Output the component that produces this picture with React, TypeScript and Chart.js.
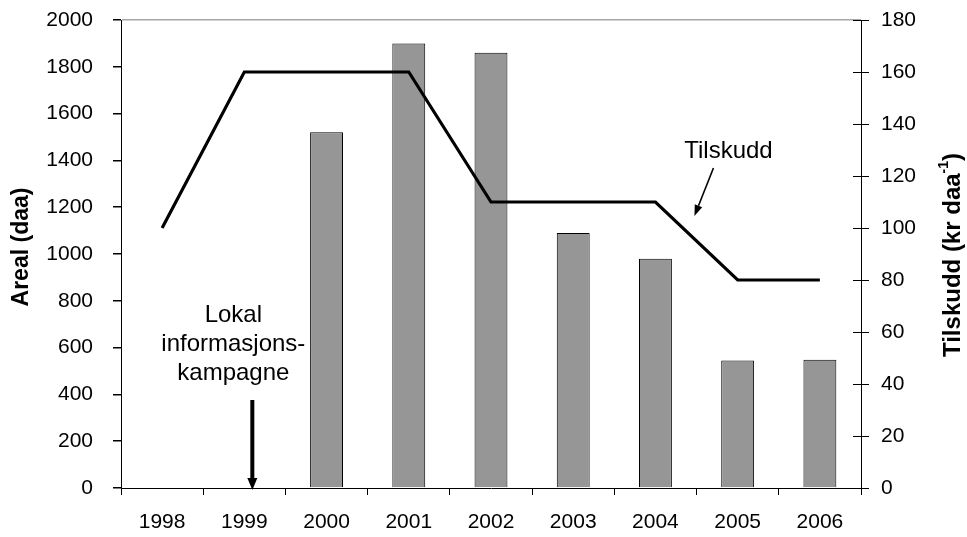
import { useEffect, useRef } from 'react';
import { Chart, registerables } from 'chart.js';

Chart.register(...registerables);

const categories = ['1998', '1999', '2000', '2001', '2002', '2003', '2004', '2005', '2006'];
const arealValues: (number | null)[] = [null, null, 1520, 1900, 1860, 1090, 980, 545, 548];
const tilskuddValues = [100, 160, 160, 160, 110, 110, 110, 80, 80];
const leftAxis = { min: 0, max: 2000, step: 200 };
const rightAxis = { min: 0, max: 180, step: 20 };
const leftTitle = 'Areal (daa)';
const rightTitleMain = 'Tilskudd (kr daa';
const rightTitleSup = '-1';
const rightTitleEnd = ')';
const lineLabel = 'Tilskudd';
const campaignLines = ['Lokal', 'informasjons-', 'kampagne'];

const FONT = '"Liberation Sans", Arial, sans-serif';
const TICK_SIZE = 21;

function arrow(ctx: CanvasRenderingContext2D, x1: number, y1: number, x2: number, y2: number, w: number, headL: number, headW: number) {
  const ang = Math.atan2(y2 - y1, x2 - x1);
  const bx = x2 - headL * Math.cos(ang);
  const by = y2 - headL * Math.sin(ang);
  ctx.save();
  ctx.strokeStyle = '#000';
  ctx.fillStyle = '#000';
  ctx.lineWidth = w;
  ctx.beginPath();
  ctx.moveTo(x1, y1);
  ctx.lineTo(bx, by);
  ctx.stroke();
  ctx.beginPath();
  ctx.moveTo(x2, y2);
  ctx.lineTo(bx + (headW / 2) * Math.sin(ang), by - (headW / 2) * Math.cos(ang));
  ctx.lineTo(bx - (headW / 2) * Math.sin(ang), by + (headW / 2) * Math.cos(ang));
  ctx.closePath();
  ctx.fill();
  ctx.restore();
}

const decorPlugin = {
  id: 'decor',
  afterDraw(chart: any) {
    const ctx: CanvasRenderingContext2D = chart.ctx;
    const ca = chart.chartArea;
    const xs = chart.scales.x;
    const y1 = chart.scales.y1;

    // inner halves of right-axis ticks
    ctx.save();
    ctx.strokeStyle = '#000';
    ctx.lineWidth = 1;
    for (let v = rightAxis.min; v <= rightAxis.max; v += rightAxis.step) {
      const py = Math.round(y1.getPixelForValue(v)) + 0.5;
      ctx.beginPath();
      ctx.moveTo(ca.right - 8, py);
      ctx.lineTo(ca.right, py);
      ctx.stroke();
    }
    ctx.restore();

    // left title
    ctx.save();
    ctx.fillStyle = '#000';
    ctx.font = `bold 23px ${FONT}`;
    ctx.textAlign = 'center';
    ctx.textBaseline = 'middle';
    ctx.translate(22, 247);
    ctx.rotate(-Math.PI / 2);
    ctx.fillText(leftTitle, 0, 0);
    ctx.restore();

    // right title with superscript
    ctx.save();
    ctx.fillStyle = '#000';
    ctx.translate(953, 255);
    ctx.rotate(-Math.PI / 2);
    ctx.textBaseline = 'middle';
    ctx.font = `bold 24px ${FONT}`;
    const wMain = ctx.measureText(rightTitleMain).width;
    const wEnd = ctx.measureText(rightTitleEnd).width;
    ctx.font = `bold 14px ${FONT}`;
    const wSup = ctx.measureText(rightTitleSup).width;
    const total = wMain + wSup + wEnd;
    let x = -total / 2;
    ctx.textAlign = 'left';
    ctx.font = `bold 24px ${FONT}`;
    ctx.fillText(rightTitleMain, x, 0);
    x += wMain;
    ctx.font = `bold 14px ${FONT}`;
    ctx.fillText(rightTitleSup, x, -9);
    x += wSup;
    ctx.font = `bold 24px ${FONT}`;
    ctx.fillText(rightTitleEnd, x, 0);
    ctx.restore();

    // Tilskudd annotation
    const cx2004 = xs.getPixelForValue(6);
    ctx.save();
    ctx.fillStyle = '#000';
    ctx.font = `24px ${FONT}`;
    ctx.textAlign = 'center';
    ctx.textBaseline = 'alphabetic';
    ctx.fillText(lineLabel, cx2004 + 73, 158);
    ctx.restore();
    arrow(ctx, cx2004 + 58, 168, cx2004 + 39, 216, 1.6, 11, 8);

    // campaign annotation
    const cx1999 = xs.getPixelForValue(1);
    ctx.save();
    ctx.fillStyle = '#000';
    ctx.font = `24px ${FONT}`;
    ctx.textAlign = 'center';
    ctx.textBaseline = 'alphabetic';
    const baselines = [322, 351, 380];
    campaignLines.forEach((t, i) => ctx.fillText(t, cx1999 - 11, baselines[i]));
    ctx.restore();
    arrow(ctx, cx1999 + 8, 400, cx1999 + 8, ca.bottom + 2, 4, 12, 10);
  },
};

const fixVertical = (w: number) => (s: any) => {
  s.width = w;
  s.paddingTop = 0;
  s.paddingBottom = 0;
};

export default function App() {
  const ref = useRef<HTMLCanvasElement>(null);
  useEffect(() => {
    if (!ref.current) return;
    Chart.defaults.font.family = FONT;
    const chart = new Chart(ref.current, {
      type: 'bar',
      data: {
        labels: categories,
        datasets: [
          {
            type: 'line',
            label: 'Tilskudd',
            data: tilskuddValues,
            yAxisID: 'y1',
            borderColor: '#000',
            borderWidth: 3.2,
            pointRadius: 0,
            tension: 0,
            fill: false,
            order: 0,
          } as any,
          {
            type: 'bar',
            label: 'Areal',
            data: arealValues,
            yAxisID: 'y',
            backgroundColor: '#969696',
            borderColor: '#000',
            borderWidth: 1,
            categoryPercentage: 1,
            barPercentage: 0.4,
            order: 1,
          },
        ],
      },
      options: {
        responsive: false,
        animation: false,
        layout: { padding: { top: 20, left: 0, right: 0, bottom: 0 } },
        plugins: {
          legend: { display: false },
          tooltip: { enabled: false },
          title: { display: false },
        },
        scales: {
          x: {
            type: 'category',
            offset: true,
            grid: {
              display: true,
              offset: true,
              drawOnChartArea: false,
              drawTicks: true,
              tickLength: 7,
              tickColor: '#000',
              color: '#000',
            },
            border: { display: true, color: '#000', width: 1 },
            ticks: { color: '#000', font: { size: TICK_SIZE, family: FONT }, padding: 15, maxRotation: 0, autoSkip: false },
            afterFit: (s: any) => {
              s.height = 49;
              s.paddingLeft = 0;
              s.paddingRight = 0;
            },
          },
          y: {
            position: 'left',
            min: leftAxis.min,
            max: leftAxis.max,
            ticks: {
              stepSize: leftAxis.step,
              color: '#000',
              font: { size: TICK_SIZE, family: FONT },
              padding: 20,
              callback: (v: any) => String(v),
            },
            grid: {
              display: true,
              drawOnChartArea: true,
              drawTicks: true,
              tickLength: 8,
              tickColor: '#000',
              color: (c: any) => (c.tick && c.tick.value === leftAxis.max ? '#a6a6a6' : 'rgba(0,0,0,0)'),
              lineWidth: 1.5,
            },
            border: { display: true, color: '#000', width: 1 },
            afterFit: fixVertical(121),
          },
          y1: {
            position: 'right',
            min: rightAxis.min,
            max: rightAxis.max,
            ticks: {
              stepSize: rightAxis.step,
              color: '#000',
              font: { size: TICK_SIZE, family: FONT },
              padding: 12,
              callback: (v: any) => String(v),
            },
            grid: {
              display: true,
              drawOnChartArea: false,
              drawTicks: true,
              tickLength: 8,
              tickColor: '#000',
              color: '#000',
            },
            border: { display: true, color: '#000', width: 1 },
            afterFit: fixVertical(106),
          },
        },
      },
      plugins: [decorPlugin],
    });
    return () => chart.destroy();
  }, []);
  return (
    <div style={{ position: 'fixed', left: 0, top: 0, width: 967, height: 537, background: '#fff' }}>
      <canvas ref={ref} width={967} height={537} style={{ display: 'block' }} />
    </div>
  );
}
